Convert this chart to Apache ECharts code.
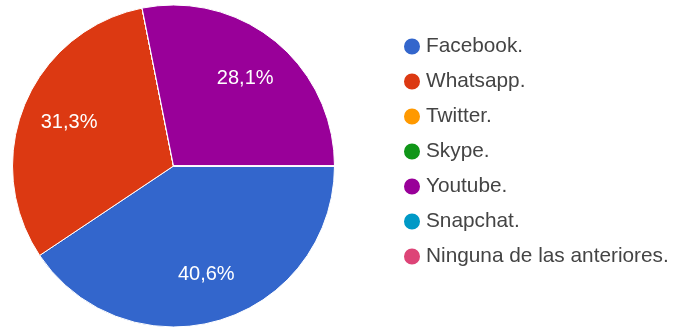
<!DOCTYPE html>
<html><head><meta charset="utf-8">
<script src="https://cdn.jsdelivr.net/npm/echarts@6/dist/echarts.min.js"></script>
<style>html,body{margin:0;padding:0;background:#fff}#c{width:676px;height:329px}</style>
</head><body><div id="c"></div>
<script>
const categories = ['Facebook.', 'Whatsapp.', 'Twitter.', 'Skype.', 'Youtube.', 'Snapchat.', 'Ninguna de las anteriores.'];
const values = [13, 10, 0, 0, 9, 0, 0];
const colors = ['#3366cc', '#dc3912', '#ff9900', '#109618', '#990099', '#0099c6', '#dd4477'];

const data = categories.map((n, i) => ({ name: n, value: values[i], itemStyle: { color: colors[i] } }));
const total = values.reduce((a, b) => a + b, 0);
const chart = echarts.init(document.getElementById('c'), null, { renderer: 'canvas' });
chart.setOption({
  animation: false,
  color: colors,
  legend: {
    orient: 'vertical', left: 397, top: 31, icon: 'circle', itemWidth: 18, itemHeight: 18, itemGap: 14,
    data: categories,
    textStyle: { fontFamily: 'Liberation Sans, Arial', fontSize: 20.8, lineHeight: 20, color: '#444' }
  },
  series: [{
    type: 'pie', center: [173.5, 166], radius: [0, 161], startAngle: 0, clockwise: true,
    silent: true, stillShowZeroSum: false,
    label: { show: false }, labelLine: { show: false },
    itemStyle: { borderColor: '#fff', borderWidth: 1 },
    data: data
  }, {
    type: 'pie', center: [173.5, 166], radius: [59, 161], startAngle: 0, clockwise: true,
    silent: true, legendHoverLink: false,
    itemStyle: { color: 'rgba(0,0,0,0)' },
    label: {
      show: true, position: 'inside', color: '#fff', fontSize: 20, fontFamily: 'Liberation Sans, Arial',
      formatter: p => p.value > 0 ? (p.value / total * 100).toFixed(1).replace('.', ',') + '%' : ''
    },
    labelLine: { show: false },
    data: categories.map((n, i) => ({ name: n, value: values[i] }))
  }]
});
</script></body></html>
